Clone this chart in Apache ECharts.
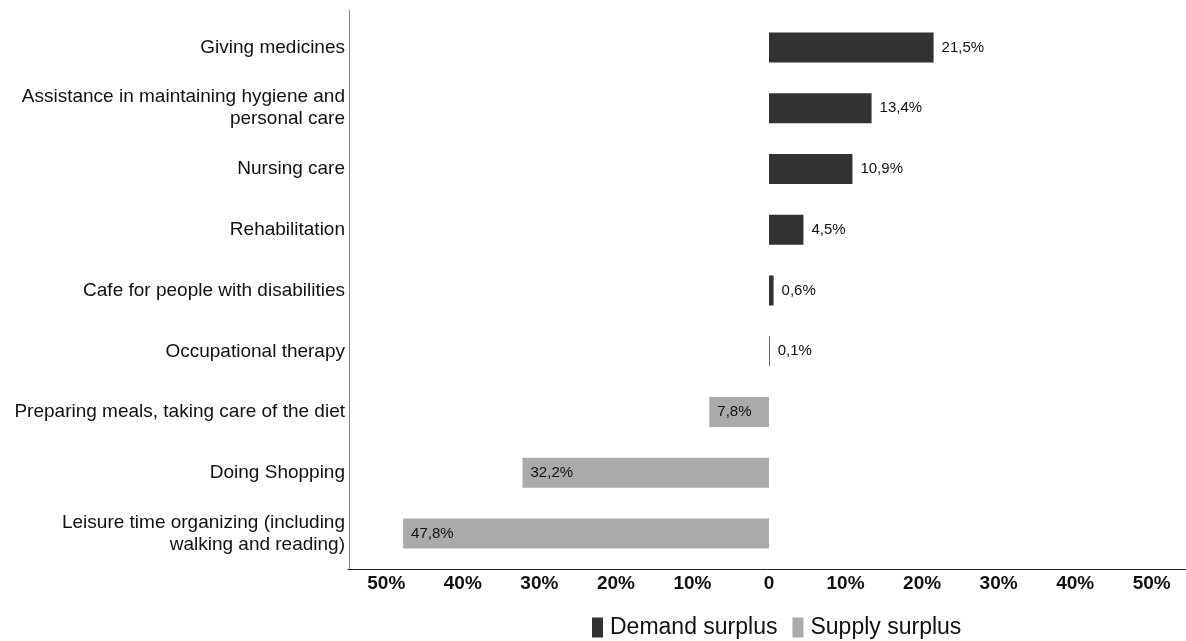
<!DOCTYPE html>
<html>
<head>
<meta charset="utf-8">
<script src="https://cdn.jsdelivr.net/npm/echarts@6/dist/echarts.min.js"></script>
<style>
  html, body { margin: 0; padding: 0; background: #fff; }
  #main { width: 1186px; height: 641px; }
</style>
</head>
<body>
<div id="main"></div>
<script>
// categories, top to bottom
const categories = [
  'Giving medicines',
  'Assistance in maintaining hygiene and\npersonal care',
  'Nursing care',
  'Rehabilitation',
  'Cafe for people with disabilities',
  'Occupational therapy',
  'Preparing meals, taking care of the diet',
  'Doing Shopping',
  'Leisure time organizing (including\nwalking and reading)'
];
// demand surplus goes right, supply surplus left (negative)
const demandSurplus = [21.5, 13.4, 10.9, 4.5, 0.6, 0.1, '-', '-', '-'];
const supplySurplus = ['-', '-', '-', '-', '-', '-', -7.8, -32.2, -47.8];
const axisMin = -55;
const axisMax = 55;

function pct(v) {
  return Math.abs(v).toFixed(1).replace('.', ',') + '%';
}

const chart = echarts.init(document.getElementById('main'));
chart.setOption({
  animation: false,
  textStyle: { fontFamily: 'Liberation Sans, Arial, sans-serif' },
  grid: { left: 348, top: 17, width: 842, height: 547, outerBoundsMode: 'none' },
  legend: {
    top: 611,
    left: 587,
    itemWidth: 11,
    itemHeight: 20,
    itemGap: 15,
    icon: 'rect',
    textStyle: { fontSize: 23, color: '#111', padding: [0, 0, 0, 2] },
    data: ['Demand surplus', 'Supply surplus']
  },
  xAxis: {
    type: 'value',
    min: axisMin,
    max: axisMax,
    interval: 5,
    offset: 5,
    axisLine: { show: true, lineStyle: { color: '#222', width: 1 } },
    axisTick: { show: false },
    splitLine: { show: false },
    axisLabel: {
      fontSize: 19,
      fontWeight: 'bold',
      color: '#111',
      margin: 5,
      formatter: function (v) {
        if (v % 10 !== 0) return '';
        return v === 0 ? '0' : Math.abs(v) + '%';
      }
    }
  },
  yAxis: {
    type: 'category',
    inverse: true,
    data: categories,
    axisLine: { show: false },
    axisTick: { show: false },
    axisLabel: { fontSize: 19, color: '#111', margin: 3, lineHeight: 22 }
  },
  graphic: [{
    type: 'line',
    shape: { x1: 349.5, y1: 10, x2: 349.5, y2: 569 },
    style: { stroke: '#888', lineWidth: 1 }
  }],
  series: [
    {
      name: 'Demand surplus',
      type: 'bar',
      stack: 'gap',
      barWidth: 30,
      data: demandSurplus,
      itemStyle: { color: '#323232' },
      label: {
        show: true,
        position: 'right',
        distance: 8,
        fontSize: 15,
        color: '#111',
        formatter: p => pct(p.value)
      }
    },
    {
      name: 'Supply surplus',
      type: 'bar',
      stack: 'gap',
      barWidth: 30,
      data: supplySurplus,
      itemStyle: { color: '#aaaaaa' },
      label: {
        show: true,
        position: 'insideLeft',
        distance: 8,
        fontSize: 15,
        color: '#111',
        formatter: p => pct(p.value)
      }
    }
  ]
});
</script>
</body>
</html>
